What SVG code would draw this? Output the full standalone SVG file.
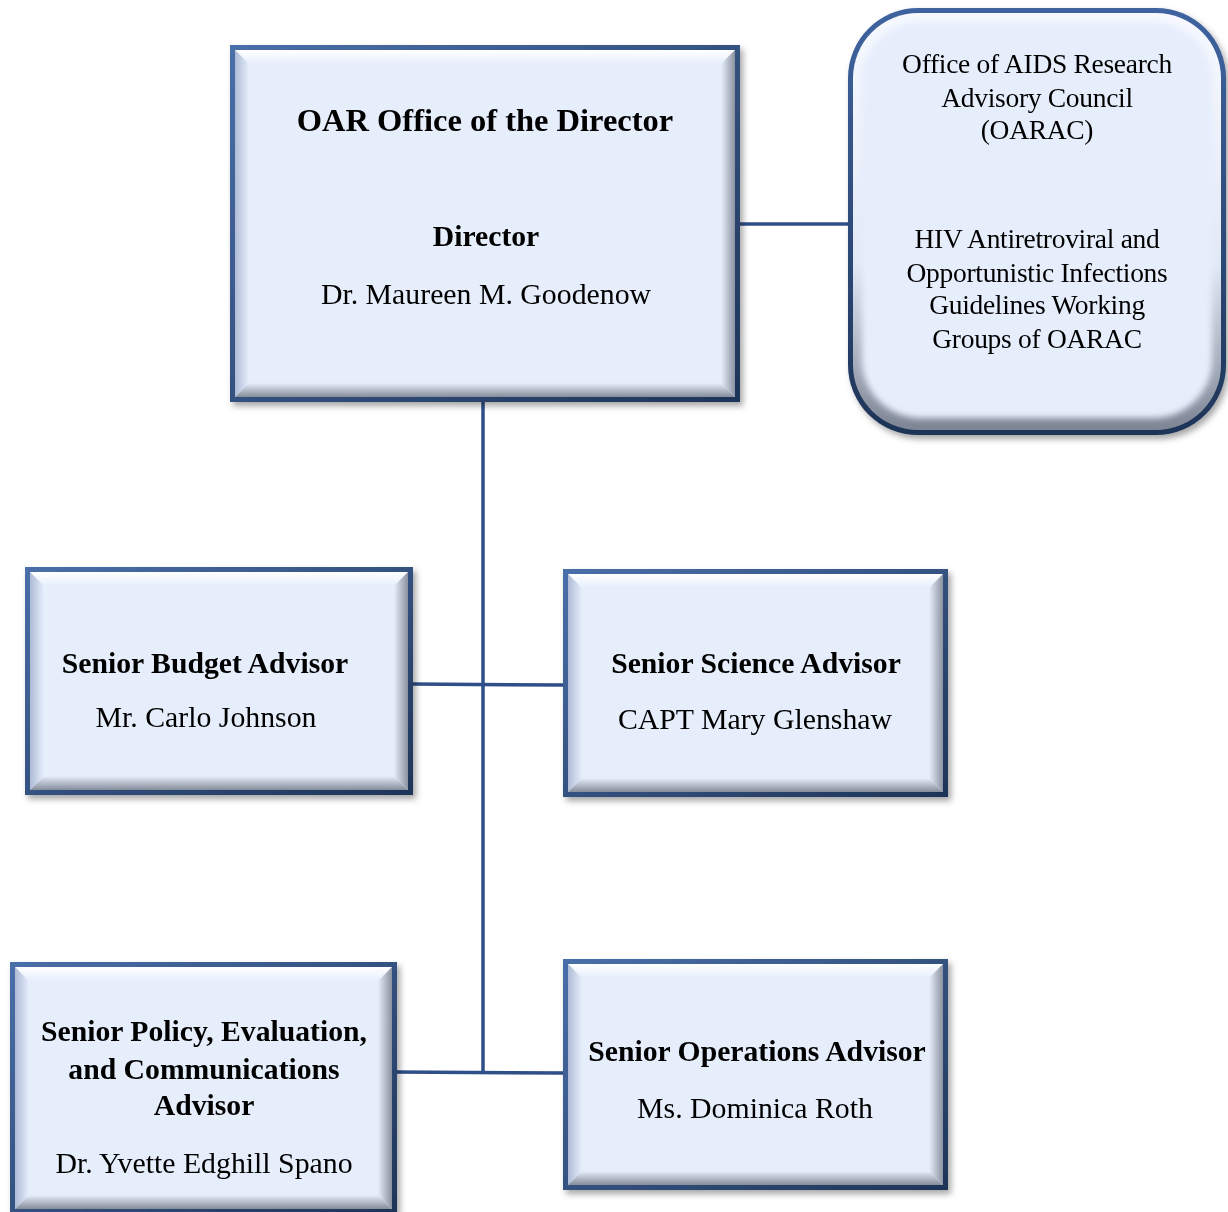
<svg xmlns="http://www.w3.org/2000/svg" width="1228" height="1212" viewBox="0 0 1228 1212">
<defs>
<filter id="sh" x="-5%" y="-5%" width="115%" height="115%"><feDropShadow dx="3" dy="4" stdDeviation="3" flood-color="#000" flood-opacity="0.35"/></filter>
<filter id="bl" x="-5%" y="-5%" width="110%" height="110%"><feGaussianBlur stdDeviation="3"/></filter>
<linearGradient id="gT" x1="0" y1="0" x2="0" y2="1"><stop offset="0" stop-color="#ffffff"/><stop offset="1" stop-color="#e6eefc"/></linearGradient>
<linearGradient id="gB" x1="0" y1="0" x2="0" y2="1"><stop offset="0" stop-color="#e6eefc"/><stop offset="1" stop-color="#858d9b"/></linearGradient>
<linearGradient id="gL" x1="0" y1="0" x2="1" y2="0"><stop offset="0" stop-color="#aebbd6"/><stop offset="1" stop-color="#e6eefc"/></linearGradient>
<linearGradient id="gR" x1="0" y1="0" x2="1" y2="0"><stop offset="0" stop-color="#e6eefc"/><stop offset="1" stop-color="#8a92a0"/></linearGradient>
<linearGradient id="gRing" x1="0" y1="0" x2="0" y2="1"><stop offset="0" stop-color="#f7f9ff"/><stop offset="0.6" stop-color="#e2e9f6"/><stop offset="1" stop-color="#7d8594"/></linearGradient>
<linearGradient id="gEdge" x1="0" y1="0" x2="1" y2="1"><stop offset="0" stop-color="#4a6fa9"/><stop offset="1" stop-color="#1e3457"/></linearGradient>
<linearGradient id="gEdgeR" x1="0" y1="0" x2="0" y2="1"><stop offset="0" stop-color="#3f64a0"/><stop offset="1" stop-color="#1e3457"/></linearGradient>
</defs>
<style>
.face{fill:#e6eefc}
.edge{fill:url(#gEdge)}
.t{fill:url(#gT)}.b{fill:url(#gB)}.l{fill:url(#gL)}.r{fill:url(#gR)}
.conn{stroke:#2f4f88;stroke-width:3.5;fill:none}
text{font-family:"Liberation Serif","Times New Roman",serif;fill:#000;text-anchor:middle}
.h{font-weight:bold;font-size:29.7px}
.n{font-size:29.8px}
.s{font-size:27.5px;letter-spacing:-0.3px}
</style>

<g id="connectors">
<line class="conn" x1="483" y1="400" x2="483" y2="1073"/>
<line class="conn" x1="411" y1="684" x2="565" y2="685"/>
<line class="conn" x1="395" y1="1072" x2="565" y2="1073"/>
<line class="conn" x1="738" y1="224" x2="850" y2="224"/>
</g>

<g id="director" filter="url(#sh)">
<rect class="edge" x="230" y="45" width="510" height="357"/>
<rect class="face" x="235" y="50" width="500" height="347"/>
<polygon class="t" points="235,50 735,50 721,64 249,64"/>
<polygon class="l" points="235,50 249,64 249,383 235,397"/>
<polygon class="r" points="735,50 735,397 721,383 721,64"/>
<polygon class="b" points="235,397 249,383 721,383 735,397"/>
<text class="h" x="485" y="131" style="font-size:32.5px">OAR Office of the Director</text>
<text class="h" x="486" y="246">Director</text>
<text class="n" x="486" y="304">Dr. Maureen M. Goodenow</text>
</g>

<g id="oarac" filter="url(#sh)">
<rect x="848" y="8" width="378" height="427" rx="70" fill="url(#gEdgeR)"/>
<rect x="853" y="13" width="368" height="417" rx="65" fill="url(#gRing)"/>
<rect x="862" y="22" width="350" height="396" rx="58" class="face" filter="url(#bl)"/>
<text class="s" x="1037" y="73">Office of AIDS Research</text>
<text class="s" x="1037" y="107">Advisory Council</text>
<text class="s" x="1037" y="139">(OARAC)</text>
<text class="s" x="1037" y="248">HIV Antiretroviral and</text>
<text class="s" x="1037" y="282">Opportunistic Infections</text>
<text class="s" x="1037" y="314">Guidelines Working</text>
<text class="s" x="1037" y="348">Groups of OARAC</text>
</g>

<g id="budget" filter="url(#sh)">
<rect class="edge" x="25" y="567" width="388" height="228"/>
<rect class="face" x="30" y="572" width="378" height="218"/>
<polygon class="t" points="30,572 408,572 394,586 44,586"/>
<polygon class="l" points="30,572 44,586 44,776 30,790"/>
<polygon class="r" points="408,572 408,790 394,776 394,586"/>
<polygon class="b" points="30,790 44,776 394,776 408,790"/>
<text class="h" x="205" y="673">Senior Budget Advisor</text>
<text class="n" x="206" y="727">Mr. Carlo Johnson</text>
</g>

<g id="science" filter="url(#sh)">
<rect class="edge" x="563" y="569" width="385" height="228"/>
<rect class="face" x="568" y="574" width="375" height="218"/>
<polygon class="t" points="568,574 943,574 929,588 582,588"/>
<polygon class="l" points="568,574 582,588 582,778 568,792"/>
<polygon class="r" points="943,574 943,792 929,778 929,588"/>
<polygon class="b" points="568,792 582,778 929,778 943,792"/>
<text class="h" x="756" y="673">Senior Science Advisor</text>
<text class="n" x="755" y="729">CAPT Mary Glenshaw</text>
</g>

<g id="policy" filter="url(#sh)">
<rect class="edge" x="10" y="962" width="387" height="252"/>
<rect class="face" x="15" y="967" width="377" height="242"/>
<polygon class="t" points="15,967 392,967 378,981 29,981"/>
<polygon class="l" points="15,967 29,981 29,1195 15,1209"/>
<polygon class="r" points="392,967 392,1209 378,1195 378,981"/>
<polygon class="b" points="15,1209 29,1195 378,1195 392,1209"/>
<text class="h" x="204" y="1041">Senior Policy, Evaluation,</text>
<text class="h" x="204" y="1079">and Communications</text>
<text class="h" x="204" y="1115">Advisor</text>
<text class="n" x="204" y="1173">Dr. Yvette Edghill Spano</text>
</g>

<g id="operations" filter="url(#sh)">
<rect class="edge" x="563" y="959" width="385" height="231"/>
<rect class="face" x="568" y="964" width="375" height="221"/>
<polygon class="t" points="568,964 943,964 929,978 582,978"/>
<polygon class="l" points="568,964 582,978 582,1171 568,1185"/>
<polygon class="r" points="943,964 943,1185 929,1171 929,978"/>
<polygon class="b" points="568,1185 582,1171 929,1171 943,1185"/>
<text class="h" x="757" y="1061">Senior Operations Advisor</text>
<text class="n" x="755" y="1118">Ms. Dominica Roth</text>
</g>
</svg>
